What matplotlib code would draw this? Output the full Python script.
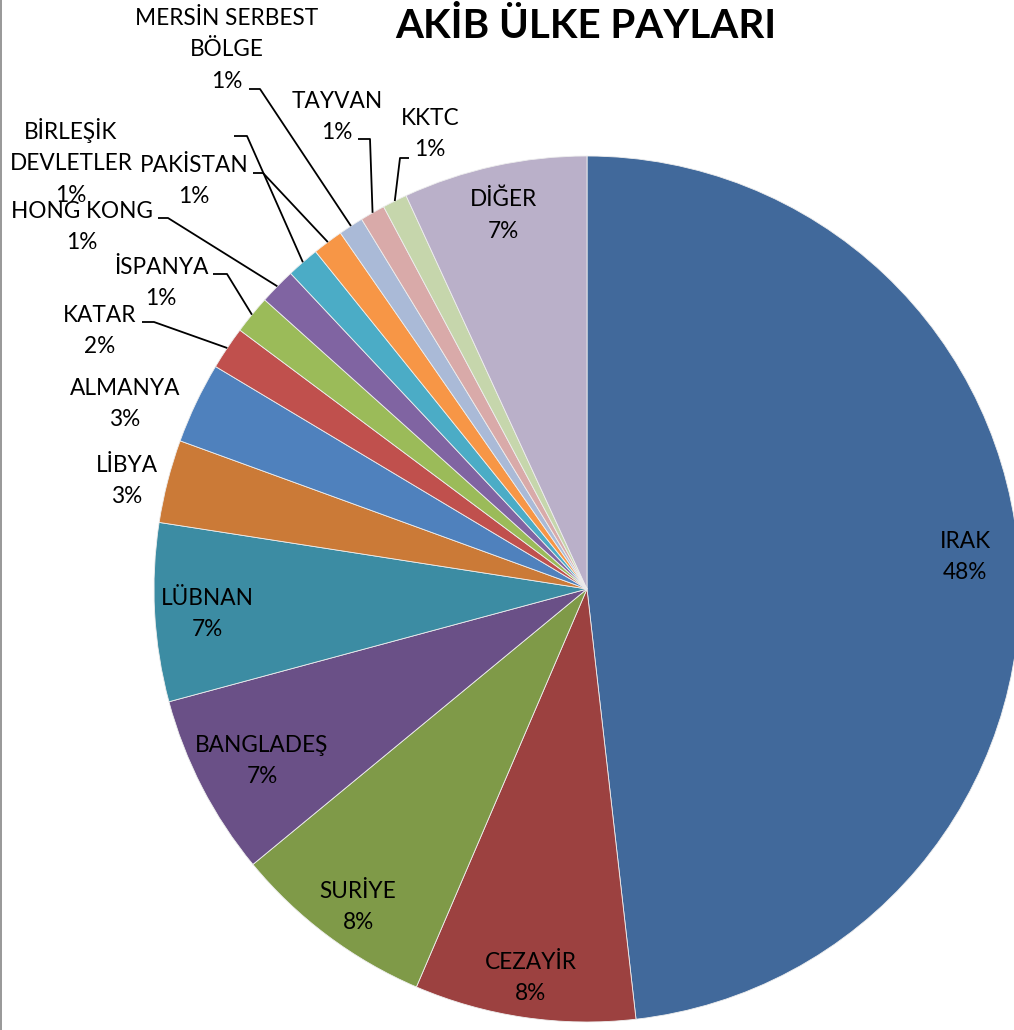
import numpy as np
import matplotlib
matplotlib.use("Agg")
import matplotlib.pyplot as plt
from matplotlib.patches import Rectangle

# ---- data ----
countries = ["IRAK", "CEZAYİR", "SURİYE", "BANGLADEŞ", "LÜBNAN", "LİBYA", "ALMANYA",
             "KATAR", "İSPANYA", "HONG KONG", "BİRLEŞİK\nDEVLETLER", "PAKİSTAN",
             "MERSİN SERBEST\nBÖLGE", "TAYVAN", "KKTC", "DİĞER"]
shares = [48.19, 8.25, 7.58, 6.78, 6.65, 3.10, 3.03, 1.61, 1.44, 1.36, 1.22, 1.14,
          0.93, 0.93, 0.92, 6.86]
colors = ["#41699B", "#9C4140", "#7F9A48", "#6A5087", "#3C8CA3", "#CB7A37", "#4F81BD",
          "#C0504D", "#9BBB59", "#8064A2", "#4BACC6", "#F79646", "#AABAD7", "#D9AAA9",
          "#C6D6AC", "#BAB0C9"]
title = "AKİB ÜLKE PAYLARI"

# ---- layout (pixel coordinates, y downward) ----
W, H = 1014, 1030
cx, cy, R = 587, 589, 433
label_pos = [(965, 557), (531, 978), (358, 907), (262, 761), (207, 614), (127, 481),
             (125, 404), (100, 331), (161, 283), (82, 227), (71, 162), (194, 181),
             (227, 50), (337, 117), (430, 134), (503, 215)]
# leader start / elbow points (None = label inside slice)
leaders = [None, None, None, None, None, None, None,
           ((142, 322), (154, 322)), ((213, 274), (227, 274)), ((158, 218), (168, 218)),
           ((234, 136), (247, 136)), ((253, 173), (263, 173)), ((249, 89), (260, 89)),
           ((358, 139), (370, 139)), ((409, 158), (400, 158)), None]

FONT = ["Lato", "DejaVu Sans"]
plt.rcParams["font.family"] = FONT

fig = plt.figure(figsize=(W / 100, H / 100), dpi=100)
ax = fig.add_axes([0, 0, 1, 1])
wedges, _ = ax.pie(shares, colors=colors, startangle=90, counterclock=False,
                   radius=R, center=(cx, H - cy),
                   wedgeprops=dict(edgecolor="#eeeeee", linewidth=0.6))
ax.set_xlim(0, W)
ax.set_ylim(0, H)
ax.set_aspect("equal", adjustable="box")
ax.axis("off")

total = sum(shares)
for i, (name, v) in enumerate(zip(countries, shares)):
    txt = f"{name}\n{round(v / total * 100):.0f}%"
    px, py = label_pos[i]
    ax.text(px, H - py, txt, ha="center", va="center", fontsize=16.3,
            linespacing=1.62, color="black")
    if leaders[i] is not None:
        w = wedges[i]
        mid = np.deg2rad((w.theta1 + w.theta2) / 2)
        ex = cx + R * np.cos(mid)
        ey = (H - cy) + R * np.sin(mid)
        (sx, sy), (bx, by) = leaders[i]
        ax.plot([sx, bx, ex], [H - sy, H - by, ey], color="black", lw=1.3,
                solid_capstyle="butt")

fig.text(586 / W, 1 - 27 / H, title, ha="center", va="center", fontsize=29,
         fontweight="bold")
fig.add_artist(Rectangle((0, 0), 2 / W, 1, transform=fig.transFigure,
                         color="#9a9a9a", lw=0))

fig.savefig("out.png", dpi=100)
